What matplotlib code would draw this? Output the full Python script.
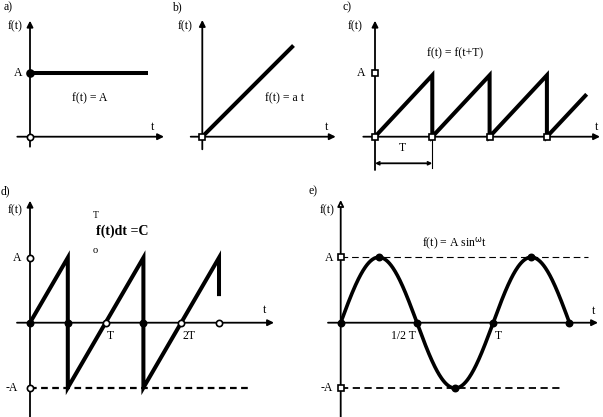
import numpy as np
import matplotlib
matplotlib.use("Agg")
import matplotlib.pyplot as plt

plt.rcParams['font.family'] = ['Liberation Serif', 'DejaVu Serif']
plt.rcParams['mathtext.fontset'] = 'custom'
plt.rcParams['mathtext.rm'] = 'Liberation Serif'
plt.rcParams['mathtext.it'] = 'Liberation Serif'

# ---------------- data ----------------
# a) constant
a_t = [0.0, 2.0]
a_f = [1.0, 1.0]
# b) ramp
b_t = [0.0, 2.0]
b_f = [0.0, 2.0]
# c) periodic sawtooth (t in units of T, f in units of A)
c_t = [0, 1, 1, 2, 2, 3, 3, 3.67]
c_f = [0, 0.96, 0, 0.96, 0, 0.96, 0, 0.64]
c_marks = [0, 1, 2, 3]
# d) zero-mean sawtooth
d_t = [0, 0.5, 0.5, 1.5, 1.5, 2.5, 2.5]
d_f = [0, 1, -1, 1, -1, 1, 0.44]
d_marks_filled = [0, 0.5, 1.5]
d_marks_open = [1.0, 2.0, 2.5]
d_ticks = [1, 2]
d_ticklabels = ["T", "2T"]
# e) sine
e_A = 1.0
e_T = 1.0
e_tmax = 1.5
e_zero_marks = [0, 0.5, 1.0, 1.5]
e_peak_t = [0.25, 0.75, 1.25]
e_peak_f = [1, -1, 1]
e_ticks = [0.5, 1.0]
e_ticklabels = ["1/2 T", "T"]

W, H = 603, 417
fig = plt.figure(figsize=(W / 100, H / 100), dpi=100)

FS = 8.5
AX_LW = 1.3
WAVE_LW = 2.9


def panel(ox, oy, sx, sy):
    ax = fig.add_axes([0, 0, 1, 1], facecolor='none')
    ax.set_xlim(-ox / sx, (W - ox) / sx)
    ax.set_ylim(-(H - oy) / sy, oy / sy)
    ax.axis('off')
    ax._o = (ox, oy, sx, sy)
    return ax


def P(ax, x, y):
    ox, oy, sx, sy = ax._o
    return (x - ox) / sx, (oy - y) / sy


def txt(ax, x, y, s, size=FS, **kw):
    dx, dy = P(ax, x, y)
    ax.text(dx, dy, s, ha=kw.pop('ha', 'center'), va=kw.pop('va', 'center'),
            fontsize=size, **kw)


def axes_arrows(ax, x0, x1, y0, y1, open_y=False):
    xa, _ = P(ax, x0, 0)
    xb, _ = P(ax, x1, 0)
    _, ya = P(ax, 0, y0)
    _, yb = P(ax, 0, y1)
    ax.annotate('', xy=(xb, 0), xytext=(xa, 0),
                arrowprops=dict(arrowstyle='-|>', lw=AX_LW, color='k',
                                mutation_scale=9, shrinkA=0, shrinkB=0))
    ax.annotate('', xy=(0, yb), xytext=(0, ya),
                arrowprops=dict(arrowstyle='-|>', lw=AX_LW, color='k',
                                fc='white' if open_y else 'k',
                                mutation_scale=9, shrinkA=0, shrinkB=0))


def mark(ax, t, f, face='white', m='o', ms=4.5):
    ax.plot(t, f, ls='none', marker=m, ms=ms, mfc=face, mec='k', mew=1.2,
            zorder=5, clip_on=False)


# ---------- a) ----------
ax = panel(30, 136.7, 59, 64)
axes_arrows(ax, 17.3, 164, 146.7, 20.7)
ax.plot(a_t, a_f, color='k', lw=WAVE_LW, solid_capstyle='butt', clip_on=False)
mark(ax, [0], [a_f[0]], face='k', m='o', ms=5)
mark(ax, [0], [0])
txt(ax, 8, 7, "a)")
txt(ax, 15, 26, "f(t)")
txt(ax, 18.5, 72.7, "A")
txt(ax, 90, 98.3, "f(t) = A")
txt(ax, 153, 126.7, "t")

# ---------- b) ----------
ax = panel(202.3, 136.7, 45.6, 45.6)
axes_arrows(ax, 190.7, 335.7, 149.3, 20)
ax.plot(b_t, b_f, color='k', lw=WAVE_LW, solid_capstyle='butt', clip_on=False)
mark(ax, [0], [0], m='s', ms=4)
txt(ax, 177, 7, "b)")
txt(ax, 185, 26, "f(t)")
txt(ax, 285, 98.3, "f(t) = a t")
txt(ax, 327, 126.7, "t")

# ---------- c) ----------
ax = panel(375, 136.7, 57.3, 64)
axes_arrows(ax, 363.3, 600, 170, 20.7)
ax.plot(c_t, c_f, color='k', lw=WAVE_LW, solid_joinstyle='miter', clip_on=False)
mark(ax, c_marks, [0] * len(c_marks), m='s', ms=4)
mark(ax, [0], [1], m='s', ms=4)
_, yb = P(ax, 0, 163.3)
ax.annotate('', xy=(c_marks[1], yb), xytext=(c_marks[0], yb),
            arrowprops=dict(arrowstyle='<->', lw=AX_LW, color='k',
                            mutation_scale=5, shrinkA=0, shrinkB=0))
_, y_top = P(ax, 0, 140)
_, y_bot = P(ax, 0, 168)
ax.plot([c_marks[1], c_marks[1]], [y_top, y_bot], color='k', lw=0.8)
txt(ax, 347, 7, "c)")
txt(ax, 355, 26, "f(t)")
txt(ax, 361, 72.7, "A")
txt(ax, 455, 53.3, "f(t) = f(t+T)")
txt(ax, 597, 126.7, "t")
txt(ax, 402, 148, "T")

# ---------- d) ----------
ax = panel(30, 322.7, 75.6, 65)
axes_arrows(ax, 17, 274, 420, 200.7)
ax.plot(d_t, d_f, color='k', lw=WAVE_LW, solid_joinstyle='miter', clip_on=False)
ax.plot([0, 2.88], [-1, -1], color='k', lw=1.6, ls=(0, (3.0, 2.0)))
mark(ax, d_marks_filled, [0] * len(d_marks_filled), face='k')
mark(ax, d_marks_open, [0] * len(d_marks_open))
mark(ax, [0, 0], [1, -1])
for tk, lb in zip(d_ticks, d_ticklabels):
    ax.text(tk + 0.02, P(ax, 0, 336)[1], lb, ha='left', va='center', fontsize=FS)
txt(ax, 5, 191.7, "d)")
txt(ax, 15, 210, "f(t)")
txt(ax, 16.7, 257.7, "A")
txt(ax, 12, 388, "-A")
txt(ax, 265, 310, "t")
txt(ax, 96, 216, "T", size=7)
txt(ax, 96, 231.7, "f(t)dt =C", size=10, ha='left', fontweight='bold')
txt(ax, 95, 250.7, "o", size=7.5)

# ---------- e) ----------
ax = panel(340.7, 322.7, 152.5, 65.5)
axes_arrows(ax, 328, 598, 420, 200, open_y=True)
e_t = np.linspace(0, e_tmax, 400)
ax.plot(e_t, e_A * np.sin(2 * np.pi * e_t / e_T), color='k', lw=2.6, clip_on=False)
ax.plot([0, 1.62], [1, 1], color='k', lw=0.8, ls=(0, (6, 3.5)))
ax.plot([0, 1.44], [-1, -1], color='k', lw=1.3, ls=(0, (4, 2.5)))
mark(ax, e_zero_marks, [0] * len(e_zero_marks), face='k')
mark(ax, e_peak_t, e_peak_f, face='k')
mark(ax, [0, 0], [1, -1], m='s', ms=4)
for tk, lb in zip(e_ticks, e_ticklabels):
    ax.text(tk + (-0.005 if lb != "T" else 0.01), P(ax, 0, 336)[1], lb,
            ha='right' if lb != "T" else 'left', va='center', fontsize=FS)
txt(ax, 313, 191, "e)")
txt(ax, 327, 210, "f(t)")
txt(ax, 329, 258, "A")
txt(ax, 327, 388, "-A")
txt(ax, 594, 311, "t")
txt(ax, 455, 243, r"f(t) = A sin$^{\mathsf{\omega}}$t")

fig.savefig("out.png", dpi=100)
